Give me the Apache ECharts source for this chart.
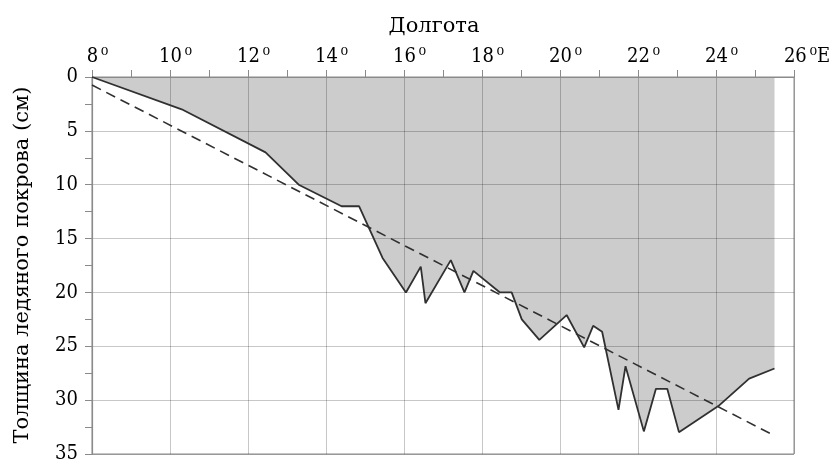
<!DOCTYPE html>
<html><head><meta charset="utf-8">
<script src="https://cdn.jsdelivr.net/npm/echarts@6/dist/echarts.min.js"></script>
<style>html,body{margin:0;padding:0;background:#fff}#c{width:833px;height:459px}</style>
</head><body><div id="c"></div>
<script>
// Longitude (deg E) and ice thickness (cm) of the measured profile
var lon   = [8, 10.3, 12.45, 13.3, 14.4, 14.85, 15.45, 16.05, 16.43, 16.55, 17.2, 17.55, 17.78, 18.46, 18.76, 19.02, 19.47, 20.17, 20.62, 20.85, 21.08, 21.5, 21.68, 22.15, 22.46, 22.75, 23.05, 24.06, 24.85, 25.5];
var thick = [0, 3, 7, 10, 12, 12, 16.8, 20, 17.6, 21, 17, 20, 18, 20, 20, 22.5, 24.4, 22.1, 25.1, 23.1, 23.65, 30.9, 26.85, 32.9, 28.95, 28.95, 32.97, 30.55, 28, 27.06];
// Linear trend
var trendLon   = [8, 25.5];
var trendThick = [0.75, 33.3];
// Axis ticks
var xTicks = [8, 10, 12, 14, 16, 18, 20, 22, 24, 26];
var yTicks = [0, 5, 10, 15, 20, 25, 30, 35];
var xTitle = 'Долгота';
var yTitle = 'Толщина ледяного покрова (см)';

var SERIF = 'DejaVu Serif';
var SERIF_C = 'DejaVu Serif Condensed';
var profile = lon.map(function (v, i) { return [v, thick[i]]; });
var trend = trendLon.map(function (v, i) { return [v, trendThick[i]]; });

var chart = echarts.init(document.getElementById('c'));
chart.setOption({
  animation: false,
  grid: { left: 92, right: 39, top: 77, bottom: 5, outerBoundsMode: 'none', containLabel: false, show: true, borderColor: '#8a8a8a', borderWidth: 1, backgroundColor: 'transparent' },
  graphic: [
    { type: 'text', x: 434, y: 27, style: { text: xTitle, fontFamily: SERIF, fontSize: 21, fill: '#000', align: 'center', verticalAlign: 'middle' } },
    { type: 'text', x: 23, y: 265, rotation: Math.PI / 2, style: { text: yTitle, fontFamily: SERIF, fontSize: 21, fill: '#000', align: 'center', verticalAlign: 'middle' } }
  ],
  xAxis: {
    type: 'value', position: 'top', min: xTicks[0], max: xTicks[xTicks.length - 1], interval: 2, z: 2,
    axisLine: { show: true, lineStyle: { color: '#8a8a8a', width: 1.2 } },
    axisTick: { show: true, inside: false, length: 7, lineStyle: { color: '#8a8a8a' } },
    minorTick: { show: true, splitNumber: 2, length: 7, lineStyle: { color: '#8a8a8a' } },
    splitLine: { show: true, lineStyle: { color: 'rgba(0,0,0,0.22)', width: 1 } },
    axisLabel: {
      margin: 10, color: '#000',
      formatter: function (v) {
        if (v === xTicks[xTicks.length - 1]) return '{s| }{n|' + v + '}{g| }{d|\u2070}{e|E}';
        return '{t| }{n|' + v + '}{g| }{d|\u2070}';
      },
      rich: {
        n: { fontFamily: SERIF_C, fontSize: 20, lineHeight: 20, color: '#000' },
        d: { fontFamily: SERIF_C, fontSize: 20, lineHeight: 20, color: '#000' },
        e: { fontFamily: SERIF_C, fontSize: 20, lineHeight: 20, color: '#000' },
        g: { fontFamily: SERIF_C, fontSize: 6, width: 3 },
        t: { fontFamily: SERIF_C, fontSize: 6, width: 11 },
        s: { fontFamily: SERIF_C, fontSize: 6, width: 26 }
      }
    }
  },
  yAxis: {
    type: 'value', inverse: true, min: yTicks[0], max: yTicks[yTicks.length - 1], interval: 5, z: 2,
    axisLine: { show: true, lineStyle: { color: '#8a8a8a', width: 1.2 } },
    axisTick: { show: true, inside: false, length: 7, lineStyle: { color: '#8a8a8a' } },
    minorTick: { show: true, splitNumber: 2, length: 7, lineStyle: { color: '#8a8a8a' } },
    splitLine: { show: true, lineStyle: { color: 'rgba(0,0,0,0.22)', width: 1 } },
    axisLabel: { margin: 14, color: '#000', fontFamily: SERIF_C, fontSize: 20 }
  },
  series: [
    { type: 'line', data: profile, z: 1, symbol: 'none', lineStyle: { width: 0 }, areaStyle: { color: '#cccccc', opacity: 1 }, silent: true },
    { type: 'line', data: profile, z: 3, symbol: 'none', lineStyle: { color: '#303030', width: 1.8 } },
    { type: 'line', data: trend, z: 3, symbol: 'none', lineStyle: { color: '#303030', width: 1.6, type: [10, 6] } }
  ]
});
</script></body></html>
